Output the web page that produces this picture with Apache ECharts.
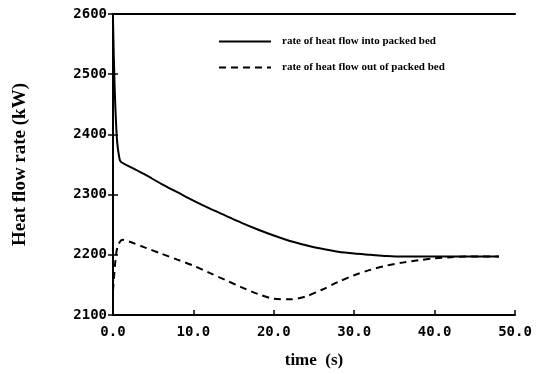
<!DOCTYPE html>
<html>
<head>
<meta charset="utf-8">
<script src="https://cdn.jsdelivr.net/npm/echarts@6/dist/echarts.min.js"></script>
<style>
  html, body { margin: 0; padding: 0; background: #fff; }
  #chart { width: 537px; height: 374px; }
</style>
</head>
<body>
<div id="chart"></div>
<script>
// time (s)
const timeIn = [0, 0.2, 0.5, 0.8, 1.0, 2, 4, 6, 8, 10, 12, 14, 16, 18, 20, 22, 24, 26, 28, 30, 32, 34, 36, 38, 40, 42, 44, 46, 48]
// rate of heat flow into packed bed (kW)
const flowIn = [2590, 2480, 2390, 2360, 2354, 2347, 2333, 2318, 2304, 2290, 2277, 2265, 2253, 2242, 2232, 2223, 2216, 2210, 2205, 2202, 2200, 2198, 2197, 2197, 2197, 2197, 2197, 2197, 2197]

const timeOut = [0, 0.3, 0.6, 1.2, 2, 4, 6, 8, 10, 12, 14, 16, 18, 20, 22, 24, 26, 28, 30, 32, 34, 36, 38, 40, 42, 44, 46, 48]
// rate of heat flow out of packed bed (kW)
const flowOut = [2140, 2190, 2215, 2225, 2222, 2212, 2202, 2192, 2182, 2170, 2158, 2146, 2135, 2127, 2126, 2131, 2142, 2155, 2166, 2175, 2182, 2187, 2191, 2194, 2196, 2197, 2197, 2197]

const seriesNames = ['rate of heat flow into packed bed', 'rate of heat flow out of packed bed']

const tickFont = {
  fontFamily: 'DejaVu Sans Mono',
  fontWeight: 'bold',
  fontSize: 14,
  color: '#000'
}
const titleFont = {
  fontFamily: 'Liberation Serif',
  fontWeight: 'bold',
  fontSize: 17,
  color: '#000'
}

const chart = echarts.init(document.getElementById('chart'), null, { renderer: 'canvas' })
chart.setOption({
  animation: false,
  backgroundColor: '#fff',
  grid: { left: 113, right: 22, top: 14, bottom: 57 },
  legend: {
    orient: 'vertical',
    left: 213,
    top: 31,
    itemWidth: 52,
    itemHeight: 12,
    itemGap: 15,
    itemStyle: { opacity: 0 },
    textStyle: {
      fontFamily: 'Liberation Serif',
      fontWeight: 'bold',
      fontSize: 11,
      color: '#000',
      padding: [0, 0, 0, 6]
    },
    data: seriesNames
  },
  xAxis: [{
    type: 'value',
    min: 0,
    max: 50,
    interval: 10,
    name: 'time  (s)',
    nameLocation: 'middle',
    nameGap: 37,
    nameTextStyle: titleFont,
    axisLine: { show: true, lineStyle: { color: '#000', width: 2 } },
    axisTick: { show: true, inside: true, length: 5, lineStyle: { color: '#000', width: 1.5 } },
    axisLabel: Object.assign({ margin: 10, formatter: v => v.toFixed(1) }, tickFont),
    splitLine: { show: false }
  }, {
    type: 'value',
    position: 'top',
    min: 0,
    max: 50,
    interval: 10,
    axisLine: { show: true, lineStyle: { color: '#000', width: 2 } },
    axisTick: { show: false },
    axisLabel: { show: false },
    splitLine: { show: false }
  }],
  yAxis: [{
    type: 'value',
    min: 2100,
    max: 2600,
    interval: 100,
    name: 'Heat flow rate (kW)',
    nameLocation: 'middle',
    nameGap: 83,
    nameTextStyle: Object.assign({}, titleFont, { fontSize: 19 }),
    axisLine: { show: true, lineStyle: { color: '#000', width: 2 } },
    axisTick: { show: true, inside: true, length: 5, lineStyle: { color: '#000', width: 1.5 } },
    axisLabel: Object.assign({ margin: 6, formatter: v => String(v) }, tickFont),
    splitLine: { show: false }
  }, {
    type: 'value',
    position: 'right',
    min: 2100,
    max: 2600,
    interval: 100,
    axisLine: { show: true, lineStyle: { color: '#000', width: 2 } },
    axisTick: { show: true, inside: true, length: 5, lineStyle: { color: '#000', width: 1.5 } },
    axisLabel: { show: false },
    splitLine: { show: false }
  }],
  series: [{
    name: seriesNames[0],
    type: 'line',
    smooth: 0.3,
    symbol: 'none',
    color: '#000',
    lineStyle: { color: '#000', width: 2, type: 'solid' },
    data: timeIn.map((t, i) => [t, flowIn[i]])
  }, {
    name: seriesNames[1],
    type: 'line',
    smooth: 0.3,
    symbol: 'none',
    color: '#000',
    lineStyle: { color: '#000', width: 2, type: [7, 5] },
    data: timeOut.map((t, i) => [t, flowOut[i]])
  }]
})
</script>
</body>
</html>
